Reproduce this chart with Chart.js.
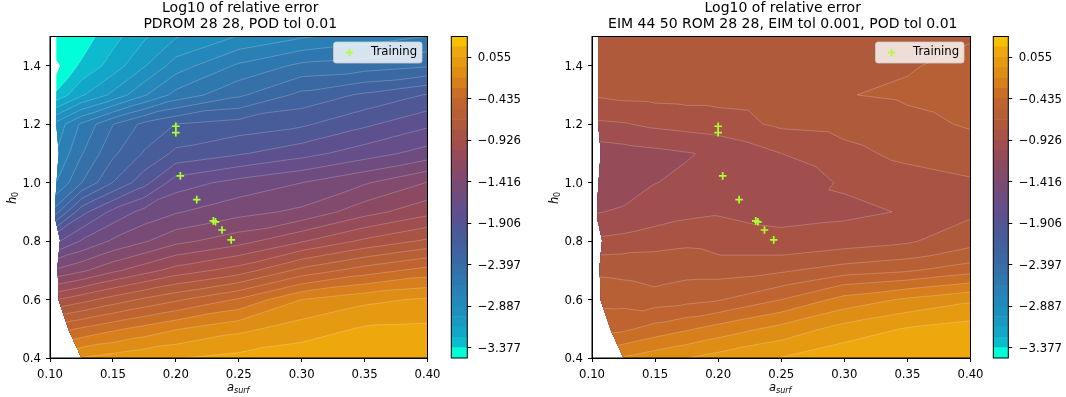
<!DOCTYPE html>
<html>
<head>
<meta charset="utf-8">
<style>
  html, body { margin: 0; padding: 0; background: #fff; }
  #wrap { position: relative; width: 1066px; height: 397px; overflow: hidden; }
  canvas { position: absolute; top: 0; }
</style>
<script src="https://cdn.jsdelivr.net/npm/chart.js@4"></script>
</head>
<body>
<div id="wrap">
  <div style="position:absolute;left:0;top:0;width:446px;height:397px"><canvas id="panelA"></canvas></div>
  <div style="position:absolute;left:445px;top:0;width:80px;height:397px"><canvas id="barA"></canvas></div>
  <div style="position:absolute;left:542px;top:0;width:447px;height:397px"><canvas id="panelB"></canvas></div>
  <div style="position:absolute;left:987px;top:0;width:79px;height:397px"><canvas id="barB"></canvas></div>
</div>
<script>
// contour levels and colours of the bands between them
const levels = [-3.5, -3.377, -3.255, -3.132, -3.010, -2.887, -2.765, -2.642, -2.519, -2.397, -2.274,
  -2.152, -2.029, -1.906, -1.784, -1.661, -1.539, -1.416, -1.294, -1.171, -1.048, -0.926,
  -0.803, -0.681, -0.558, -0.435, -0.313, -0.190, -0.068, 0.055, 0.177, 0.3];
const bandColors = ['#00ffd8', '#0ebace', '#12a6c8', '#189ac3', '#1f90be', '#2488ba', '#2a80b5', '#2f78af',
  '#3570a9', '#3a68a3', '#40629e', '#475c98', '#4f5795', '#5c508f', '#654e89', '#6e4c80',
  '#784b76', '#824a6c', '#8c4a62', '#964b58', '#a04e4e', '#a85344', '#b05a3c', '#b86035',
  '#bf6430', '#c96e27', '#d67f1c', '#de8d15', '#e69a12', '#efa70e', '#f7c000'];
const barTicks = [-3.377, -2.887, -2.397, -1.906, -1.416, -0.926, -0.435, 0.055];

const xTicks = [0.10, 0.15, 0.20, 0.25, 0.30, 0.35, 0.40];
const yTicks = [0.4, 0.6, 0.8, 1.0, 1.2, 1.4];

const trainX = [0.200, 0.200, 0.2036, 0.2166, 0.2298, 0.2315, 0.2367, 0.244];
const trainH = [1.193, 1.171, 1.023, 0.942, 0.869, 0.866, 0.838, 0.804];

// left edge of the sampled region (the left panel has a small notch near 1.4)
const hullAX = [0.105, 0.105, 0.108, 0.105, 0.105, 0.107, 0.106, 0.104, 0.104, 0.108, 0.106, 0.107, 0.115, 0.125];
const hullAH = [1.5, 1.42, 1.4, 1.37, 1.2, 1.1, 1.05, 0.92, 0.88, 0.803, 0.712, 0.597, 0.495, 0.4];
const hullBX = [0.105, 0.105, 0.107, 0.106, 0.104, 0.104, 0.108, 0.106, 0.107, 0.115, 0.125];
const hullBH = [1.5, 1.2, 1.1, 1.05, 0.92, 0.88, 0.803, 0.712, 0.597, 0.495, 0.4];

// grid of log10 error
const gridX = [0.10, 0.125, 0.15, 0.175, 0.20, 0.25, 0.30, 0.35, 0.40];
const pdromH = [0.4, 0.5, 0.6, 0.7, 0.8, 0.9, 1.0, 1.1, 1.2, 1.3, 1.4, 1.5];
const pdromZ = [
  [-0.15, -0.06, -0.02, 0.02, 0.05, 0.09, 0.13, 0.15, 0.16],
  [-0.50, -0.42, -0.34, -0.27, -0.20, -0.10, -0.01, 0.07, 0.08],
  [-0.95, -0.85, -0.75, -0.66, -0.58, -0.42, -0.19, -0.10, -0.05],
  [-1.42, -1.32, -1.20, -1.10, -1.00, -0.87, -0.645, -0.50, -0.39],
  [-1.85, -1.65, -1.52, -1.43, -1.33, -1.22, -1.06, -0.90, -0.78],
  [-2.40, -1.95, -1.75, -1.62, -1.55, -1.46, -1.39, -1.22, -1.09],
  [-2.70, -2.40, -2.15, -1.95, -1.72, -1.62, -1.54, -1.43, -1.29],
  [-2.82, -2.53, -2.30, -2.14, -2.00, -1.92, -1.83, -1.72, -1.61],
  [-2.90, -2.62, -2.40, -2.24, -2.15, -2.10, -2.05, -1.93, -1.81],
  [-3.40, -3.15, -2.98, -2.78, -2.60, -2.42, -2.24, -2.13, -2.02],
  [-3.49, -3.36, -3.20, -3.02, -2.83, -2.62, -2.49, -2.46, -2.41],
  [-3.49, -3.44, -3.30, -3.15, -3.02, -2.88, -2.78, -2.71, -2.64]
];

// same for the right panel, rows are denser where the lines bunch up
const eimH = [0.4, 0.5, 0.6, 0.65, 0.7, 0.75, 0.8, 0.9, 1.0, 1.1, 1.2, 1.3, 1.4, 1.5];
const eimZ = [
  [-0.25, -0.18, -0.12, -0.07, -0.02, 0.06, 0.14, 0.16, 0.16],
  [-0.47, -0.46, -0.39, -0.33, -0.265, -0.15, -0.02, 0.065, 0.11],
  [-0.59, -0.60, -0.62, -0.60, -0.57, -0.435, -0.27, -0.17, -0.09],
  [-0.62, -0.65, -0.69, -0.65, -0.65, -0.57, -0.43, -0.365, -0.285],
  [-0.73, -0.74, -0.76, -0.74, -0.73, -0.70, -0.62, -0.575, -0.48],
  [-0.80, -0.79, -0.785, -0.77, -0.80, -0.80, -0.76, -0.71, -0.63],
  [-0.91, -0.89, -0.85, -0.83, -0.84, -0.87, -0.85, -0.82, -0.72],
  [-1.06, -1.03, -1.00, -0.96, -0.94, -0.99, -0.96, -0.915, -0.83],
  [-1.17, -1.12, -1.05, -1.03, -1.03, -1.03, -0.905, -0.86, -0.82],
  [-1.12, -1.10, -1.08, -1.055, -1.03, -0.926, -0.84, -0.77, -0.73],
  [-0.95, -0.935, -0.90, -0.88, -0.86, -0.78, -0.76, -0.71, -0.67],
  [-0.795, -0.77, -0.765, -0.76, -0.76, -0.74, -0.685, -0.665, -0.64],
  [-0.74, -0.75, -0.75, -0.75, -0.75, -0.745, -0.72, -0.69, -0.65],
  [-0.74, -0.75, -0.75, -0.75, -0.75, -0.76, -0.75, -0.72, -0.69]
];

const FONT = "'DejaVu Sans', sans-serif";
Chart.defaults.font.family = FONT;
Chart.defaults.color = '#000';
Chart.defaults.animation = false;
Chart.defaults.responsive = false;

// keep the part of a triangle where z >= level
function clipTriangle(tri, level) {
  const out = [];
  for (let i = 0; i < 3; i++) {
    const a = tri[i], b = tri[(i + 1) % 3];
    if (a.z >= level) out.push(a);
    if ((a.z >= level) !== (b.z >= level)) {
      const t = (level - a.z) / (b.z - a.z);
      out.push({ x: a.x + t * (b.x - a.x), y: a.y + t * (b.y - a.y), z: level });
    }
  }
  return out;
}

function gridTriangles(opts) {
  const tris = [];
  for (let r = 0; r < opts.ys.length - 1; r++) {
    for (let c = 0; c < opts.xs.length - 1; c++) {
      const p = (i, j) => ({ x: opts.xs[j], y: opts.ys[i], z: opts.z[i][j] });
      tris.push([p(r, c), p(r, c + 1), p(r + 1, c + 1)]);
      tris.push([p(r, c), p(r + 1, c + 1), p(r + 1, c)]);
    }
  }
  return tris;
}

// filled contours drawn through the chart's scales
const contourFill = {
  id: 'contourFill',
  beforeDatasetsDraw(chart, args, opts) {
    const { ctx, chartArea: area, scales: { x: sx, y: sy } } = chart;
    const px = v => sx.getPixelForValue(v), py = v => sy.getPixelForValue(v);
    const tris = gridTriangles(opts);

    ctx.save();
    ctx.beginPath();
    opts.hullX.forEach((v, i) => ctx.lineTo(px(v), py(opts.hullH[i])));
    ctx.lineTo(area.right, area.bottom);
    ctx.lineTo(area.right, area.top);
    ctx.closePath();
    ctx.clip();

    bandColors.forEach((color, i) => {
      ctx.beginPath();
      tris.forEach(t => {
        const poly = clipTriangle(t, levels[i]);
        if (poly.length < 3) return;
        poly.forEach((q, k) => k ? ctx.lineTo(px(q.x), py(q.y)) : ctx.moveTo(px(q.x), py(q.y)));
        ctx.closePath();
      });
      ctx.fillStyle = color;
      ctx.fill();
    });

    // thin contour lines on top
    ctx.strokeStyle = 'rgba(255,255,255,0.36)';
    ctx.lineWidth = 0.6;
    levels.slice(1, -1).forEach(level => {
      ctx.beginPath();
      tris.forEach(t => {
        const pts = [];
        for (let i = 0; i < 3; i++) {
          const a = t[i], b = t[(i + 1) % 3];
          if ((a.z >= level) !== (b.z >= level)) {
            const u = (level - a.z) / (b.z - a.z);
            pts.push([px(a.x + u * (b.x - a.x)), py(a.y + u * (b.y - a.y))]);
          }
        }
        if (pts.length === 2) {
          ctx.moveTo(pts[0][0], pts[0][1]);
          ctx.lineTo(pts[1][0], pts[1][1]);
        }
      });
      ctx.stroke();
    });
    ctx.restore();
  }
};

// frame, axis labels with subscripts, and the legend box
const panelExtras = {
  id: 'panelExtras',
  afterLayout(chart) {
    // title sits a touch right of the axes centre
    chart.titleBlock.left += 1.5;
    chart.titleBlock.right += 1.5;
  },
  afterDraw(chart) {
    const { ctx, chartArea: a } = chart;
    ctx.save();
    ctx.strokeStyle = '#000';
    ctx.lineWidth = 1;
    ctx.strokeRect(a.left, a.top, a.right - a.left, a.bottom - a.top);

    ctx.fillStyle = '#000';
    ctx.textBaseline = 'alphabetic';
    ctx.textAlign = 'left';
    ctx.font = 'italic 11.5px ' + FONT;
    ctx.fillText('a', 227, 390.5);
    ctx.font = 'italic 8px ' + FONT;
    ctx.fillText('surf', 234, 392.5);

    ctx.translate(15.5, 198);
    ctx.rotate(-Math.PI / 2);
    ctx.font = 'italic 11.5px ' + FONT;
    ctx.fillText('h', -6, 0);
    ctx.font = '8px ' + FONT;
    ctx.fillText('0', 1, 2);
    ctx.restore();

    ctx.save();
    ctx.beginPath();
    ctx.roundRect(333.5, 42, 88.5, 21, 2.5);
    ctx.fillStyle = 'rgba(255,255,255,0.8)';
    ctx.fill();
    ctx.strokeStyle = 'rgba(204,204,204,0.8)';
    ctx.lineWidth = 1;
    ctx.stroke();
    ctx.strokeStyle = '#adff2f';
    ctx.lineWidth = 1.7;
    ctx.beginPath();
    ctx.moveTo(345.7, 52.5); ctx.lineTo(353.3, 52.5);
    ctx.moveTo(349.5, 48.7); ctx.lineTo(349.5, 56.3);
    ctx.stroke();
    ctx.fillStyle = '#000';
    ctx.font = '11.7px ' + FONT;
    ctx.textBaseline = 'middle';
    ctx.fillText('Training', 371, 52);
    ctx.restore();
  }
};

function makePanel(id, titleLines, ys, z, hullX, hullH) {
  return new Chart(document.getElementById(id), {
    type: 'scatter',
    data: {
      datasets: [{
        label: 'Training',
        data: trainX.map((v, i) => ({ x: v, y: trainH[i] })),
        pointStyle: 'cross',
        pointRadius: 3.8,
        pointBorderWidth: 1.7,
        pointBorderColor: '#adff2f',
        pointBackgroundColor: '#adff2f'
      }]
    },
    options: {
      layout: { padding: { left: 0, right: 16.2, top: 0, bottom: 0 } },
      plugins: {
        legend: { display: false },
        tooltip: { enabled: false },
        title: {
          display: true,
          text: titleLines,
          fullSize: false,
          color: '#000',
          font: { size: 14, weight: 'normal', lineHeight: 1.15 },
          padding: { top: 0.5, bottom: 3.8 }
        },
        contourFill: { xs: gridX, ys: ys, z: z, hullX: hullX, hullH: hullH }
      },
      scales: {
        x: {
          type: 'linear', min: 0.1, max: 0.4,
          afterBuildTicks: ax => { ax.ticks = xTicks.map(v => ({ value: v })); },
          afterFit: ax => { ax.height = 39; },
          border: { color: '#000', width: 1 },
          grid: { drawOnChartArea: false, color: '#000', tickLength: 4 },
          ticks: { color: '#000', font: { size: 11.7 }, padding: 5.5, maxRotation: 0, autoSkip: false,
            callback: v => v.toFixed(2) }
        },
        y: {
          type: 'linear', min: 0.4, max: 1.5,
          afterBuildTicks: ax => { ax.ticks = yTicks.map(v => ({ value: v })); },
          afterFit: ax => { ax.width = 50; },
          border: { color: '#000', width: 1 },
          grid: { drawOnChartArea: false, color: '#000', tickLength: 4 },
          ticks: { color: '#000', font: { size: 11.7 }, padding: 5, labelOffset: 1, autoSkip: false,
            callback: v => v.toFixed(1) }
        }
      }
    },
    plugins: [contourFill, panelExtras]
  });
}

function makeBar(id) {
  return new Chart(document.getElementById(id), {
    type: 'bar',
    data: {
      labels: ['band'],
      datasets: bandColors.map((color, i) => ({
        data: [[levels[i], levels[i + 1]]],
        backgroundColor: color,
        borderWidth: 0,
        grouped: false,
        barPercentage: 1,
        categoryPercentage: 1
      }))
    },
    options: {
      layout: { padding: { left: 6.3, right: 0, top: 36.5, bottom: 39 } },
      plugins: { legend: { display: false }, tooltip: { enabled: false } },
      scales: {
        x: { display: false },
        y: {
          position: 'right',
          min: -3.5, max: 0.3,
          afterBuildTicks: ax => { ax.ticks = barTicks.map(v => ({ value: v })); },
          afterFit: ax => { ax.width = 57.7; },
          border: { display: false },
          grid: { drawOnChartArea: false, color: '#000', tickLength: 4 },
          ticks: { color: '#000', font: { size: 11.7 }, padding: 6.5, labelOffset: 1, autoSkip: false,
            callback: v => v.toFixed(3).replace('-', '\u2212') }
        }
      }
    },
    plugins: [{
      id: 'barFrame',
      afterDraw(chart) {
        const { ctx, chartArea: a } = chart;
        ctx.save();
        ctx.strokeStyle = '#000';
        ctx.lineWidth = 1;
        ctx.strokeRect(a.left, a.top, a.right - a.left, a.bottom - a.top);
        ctx.restore();
      }
    }]
  });
}

function sizeCanvas(id) {
  const c = document.getElementById(id);
  c.width = c.parentElement.clientWidth;
  c.height = c.parentElement.clientHeight;
}
['panelA', 'barA', 'panelB', 'barB'].forEach(sizeCanvas);

makePanel('panelA', ['Log10 of relative error', 'PDROM 28 28, POD tol 0.01'], pdromH, pdromZ, hullAX, hullAH);
makeBar('barA');
makePanel('panelB', ['Log10 of relative error', 'EIM 44 50 ROM 28 28, EIM tol 0.001, POD tol 0.01'], eimH, eimZ, hullBX, hullBH);
makeBar('barB');
</script>
</body>
</html>
